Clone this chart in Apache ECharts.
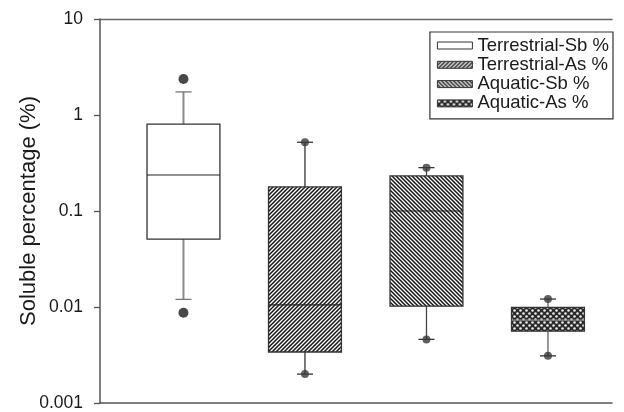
<!DOCTYPE html>
<html><head><meta charset="utf-8">
<script src="https://cdn.jsdelivr.net/npm/echarts@6/dist/echarts.min.js"></script>
<style>html,body{margin:0;padding:0;background:#fff}#c{width:624px;height:412px}</style>
</head><body><div id="c"></div>
<script>
// ---- data ----
const categories = ['Terrestrial-Sb %', 'Terrestrial-As %', 'Aquatic-Sb %', 'Aquatic-As %'];
const positions = [1, 2, 3, 4];
const whiskerLow = [0.012, 0.002, 0.0046, 0.0031];
const q1 = [0.051, 0.0034, 0.0102, 0.0056];
const median = [0.237, 0.0105, 0.1, 0.0073];
const q3 = [0.805, 0.178, 0.232, 0.0099];
const whiskerHigh = [1.74, 0.52, 0.283, 0.0121];
const outlierLow = [0.0087, 0.002, 0.0046, 0.0031];
const outlierHigh = [2.37, 0.52, 0.283, 0.0121];
const yTicks = [0.001, 0.01, 0.1, 1, 10];

// ---- patterns ----
function tile(kind) {
  const s = kind === 'cross' ? 6 : 4;
  const c = document.createElement('canvas');
  c.width = s; c.height = s;
  const g = c.getContext('2d');
  g.fillStyle = '#ffffff'; g.fillRect(0, 0, s, s);
  g.strokeStyle = '#151515'; g.lineWidth = 1.5;
  if (kind === 'fwd') {
    g.beginPath();
    for (let k = -1; k <= 1; k++) { g.moveTo(k * s - 1, s + 1); g.lineTo(k * s + s + 1, -1); }
    g.stroke();
  } else if (kind === 'back') {
    g.beginPath();
    for (let k = -1; k <= 1; k++) { g.moveTo(k * s - 1, -1); g.lineTo(k * s + s + 1, s + 1); }
    g.stroke();
  } else if (kind === 'cross') {
    g.fillStyle = '#2a2a2a'; g.fillRect(0, 0, s, s);
    g.fillStyle = '#ececec';
    g.beginPath(); g.arc(1.5, 1.5, 1.3, 0, Math.PI * 2); g.fill();
    g.beginPath(); g.arc(4.5, 4.5, 1.3, 0, Math.PI * 2); g.fill();
  }
  return c;
}
const fills = [
  '#ffffff',
  { image: tile('fwd'), repeat: 'repeat' },
  { image: tile('back'), repeat: 'repeat' },
  { image: tile('cross'), repeat: 'repeat' }
];
const whiskerColor = ['#8a8a8a', '#333', '#444', '#777'];
const whiskerWidth = [2, 1.3, 1.3, 1.5];

const chart = echarts.init(document.getElementById('c'), null, { renderer: 'canvas' });
const FONT = 'Liberation Sans, Arial, sans-serif';

const boxSeries = categories.map((name, i) => ({
  name: name,
  type: 'custom',
  xAxisIndex: 0, yAxisIndex: 0,
  itemStyle: { color: fills[i], borderColor: '#333' },
  data: [[positions[i], whiskerLow[i], q1[i], median[i], q3[i], whiskerHigh[i]]],
  z: 2,
  renderItem: function (params, api) {
    const x = api.value(0);
    const pLo = api.coord([x, api.value(1)]);
    const pQ1 = api.coord([x, api.value(2)]);
    const pMed = api.coord([x, api.value(3)]);
    const pQ3 = api.coord([x, api.value(4)]);
    const pHi = api.coord([x, api.value(5)]);
    const left = api.coord([x - 0.3, api.value(3)])[0];
    const right = api.coord([x + 0.3, api.value(3)])[0];
    const cx = pMed[0];
    const capL = api.coord([x - 0.066, api.value(3)])[0];
    const capR = api.coord([x + 0.066, api.value(3)])[0];
    const wStyle = { stroke: whiskerColor[i], lineWidth: whiskerWidth[i], fill: null };
    const capStyle = { stroke: i === 0 ? '#777' : '#333', lineWidth: 1.3 };
    return {
      type: 'group',
      children: [
        { type: 'line', shape: { x1: cx, y1: pQ3[1], x2: cx, y2: pHi[1] }, style: wStyle },
        { type: 'line', shape: { x1: cx, y1: pQ1[1], x2: cx, y2: pLo[1] }, style: wStyle },
        { type: 'line', shape: { x1: capL, y1: pHi[1], x2: capR, y2: pHi[1] }, style: capStyle },
        { type: 'line', shape: { x1: capL, y1: pLo[1], x2: capR, y2: pLo[1] }, style: capStyle },
        { type: 'rect', shape: { x: left, y: pQ3[1], width: right - left, height: pQ1[1] - pQ3[1] },
          style: { fill: fills[i], stroke: '#333', lineWidth: 1.3 } },
        { type: 'line', shape: { x1: left, y1: pMed[1], x2: right, y2: pMed[1] },
          style: { stroke: i === 3 ? '#888' : '#222', lineWidth: 1.2 } }
      ]
    };
  }
}));

const outlierData = [];
positions.forEach((p, i) => { outlierData.push([p, outlierLow[i], i]); outlierData.push([p, outlierHigh[i], i]); });

chart.setOption({
  animation: false,
  backgroundColor: '#ffffff',
  grid: { left: 100, right: 12, top: 19, bottom: 9, containLabel: false },
  xAxis: [
    { type: 'value', min: 0.313, max: 4.527, position: 'bottom',
      axisLine: { show: true, lineStyle: { color: '#555', width: 1.5 } },
      axisTick: { show: false }, axisLabel: { show: false }, splitLine: { show: false } },
    { type: 'value', min: 0.313, max: 4.527, position: 'top',
      axisLine: { show: true, lineStyle: { color: '#666', width: 1.3 } },
      axisTick: { show: false }, axisLabel: { show: false }, splitLine: { show: false } }
  ],
  yAxis: {
    type: 'log', logBase: 10, min: yTicks[0], max: yTicks[yTicks.length - 1],
    name: 'Soluble percentage (%)', nameLocation: 'middle', nameGap: 60, nameMoveOverlap: false,
    nameTextStyle: { fontFamily: FONT, fontSize: 22, color: '#1a1a1a' },
    axisLine: { show: true, lineStyle: { color: '#555', width: 1.5 } },
    axisTick: { show: true, inside: false, length: 6, lineStyle: { color: '#555', width: 1.3 } },
    axisLabel: { fontFamily: FONT, fontSize: 17.5, color: '#1a1a1a', margin: 17,
      formatter: v => String(parseFloat(Number(v).toPrecision(6))) },
    splitLine: { show: false }, minorTick: { show: false }
  },
  legend: {
    orient: 'vertical', right: 11, top: 32,
    selectedMode: false,
    backgroundColor: '#fff', borderColor: '#333', borderWidth: 1.2, borderRadius: 0,
    padding: [4, 4, 6, 7], itemGap: 0.3,
    itemWidth: 35, itemHeight: 7, icon: 'rect',
    textStyle: { fontFamily: FONT, fontSize: 18.5, color: '#1a1a1a', lineHeight: 18.3 },
    data: categories.map((n, i) => ({ name: n, icon: 'rect',
      itemStyle: { color: fills[i], borderColor: '#333', borderWidth: 1 } }))
  },
  series: boxSeries.concat([{
    type: 'scatter',
    data: outlierData,
    symbol: 'circle',
    symbolSize: v => v[2] === 0 ? 10 : 8,
    itemStyle: { color: function (p) { return p.data[2] === 0 ? '#1a1a1a' : '#3a3a3a'; } },
    z: 5
  }])
});
</script></body></html>
